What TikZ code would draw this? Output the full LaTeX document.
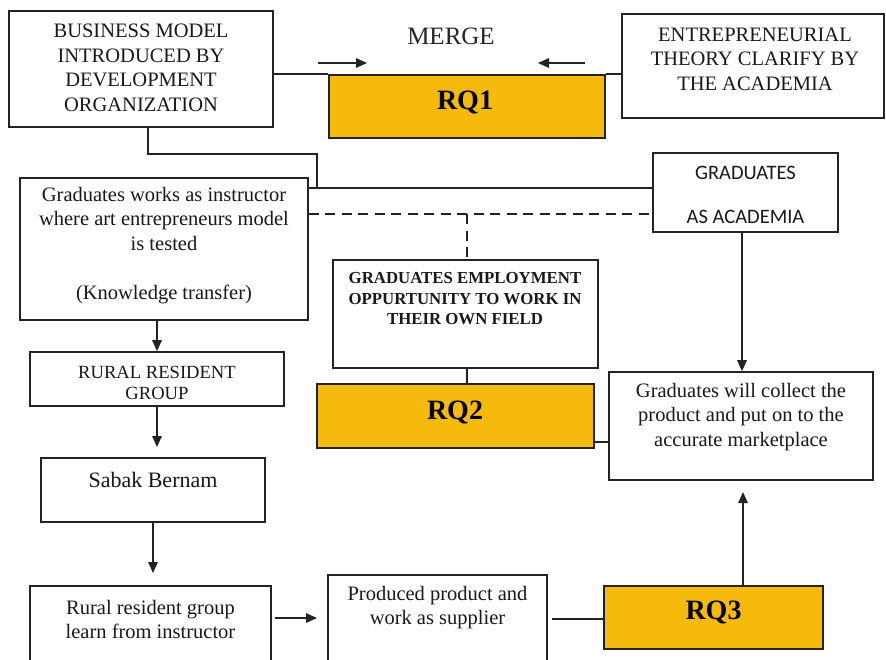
\documentclass[tikz,border=0pt]{standalone}
\usepackage{fontspec}
\setmainfont{Liberation Serif}
\newfontfamily\calfont{Carlito}
\usetikzlibrary{arrows.meta}
\definecolor{rqgold}{RGB}{245,186,12}
\definecolor{ink}{RGB}{35,35,35}
\tikzset{
  box/.style={draw=ink, line width=1.6pt, fill=white, inner sep=0pt},
  rqbox/.style={draw=ink, line width=1.6pt, fill=rqgold, inner sep=0pt},
  txt/.style={align=center, inner sep=0pt, text=black!90,
              font=\fontsize{20.5}{24.5}\selectfont},
  rqtxt/.style={inner sep=0pt, text=black, font=\fontsize{28}{30}\selectfont\bfseries},
  link/.style={draw=ink, line width=1.5pt},
  arr/.style={link, -{Triangle[length=11pt,width=9.5pt]}},
  dlink/.style={link, dash pattern=on 10pt off 6.5pt}
}
\begin{document}
\begin{tikzpicture}[x=1pt, y=-1pt]
\clip (0,0) rectangle (886,659);
\fill[white] (0,0) rectangle (886,659);

% top row
\node[box, minimum width=264pt, minimum height=116pt] (bm) at (141,69) {};
\node[txt] (bm-t) at (141,68) {BUSINESS MODEL\\INTRODUCED BY\\DEVELOPMENT\\ORGANIZATION};
\node[rqbox, minimum width=276pt, minimum height=63pt] (rq1) at (467,106.5) {};
\node[rqtxt] (rq1-t) at (465,102) {RQ1};
\node[box, minimum width=262pt, minimum height=104pt] (ent) at (753,66) {};
\node[txt] (ent-t) at (755,59) {ENTREPRENEURIAL\\THEORY CLARIFY BY\\THE ACADEMIA};
\node[inner sep=0pt, font=\fontsize{25}{28}\selectfont, text=black!85] (merge) at (451,36) {MERGE};

% middle area
\node[box, minimum width=288pt, minimum height=142pt] (instr) at (164,249) {};
\node[txt] (instr-t) at (164,245.5) {Graduates works as instructor\\where art entrepreneurs model\\is tested\\[24.5pt](Knowledge transfer)};
\node[box, minimum width=185pt, minimum height=79pt] (acad) at (745.5,192.5) {};
\node[txt, font=\calfont\fontsize{20.5}{22}\selectfont] (acad-t) at (745.5,195) {GRADUATES\\[22pt]AS ACADEMIA};
\node[box, minimum width=265pt, minimum height=108pt] (emp) at (465.5,314) {};
\node[txt, font=\fontsize{16.8}{20.5}\selectfont\bfseries] (emp-t) at (465,299)
  {GRADUATES EMPLOYMENT\\OPPURTUNITY TO WORK IN\\THEIR OWN FIELD};
\node[rqbox, minimum width=277pt, minimum height=64pt] (rq2) at (455.5,416) {};
\node[rqtxt] (rq2-t) at (455,412) {RQ2};
\node[box, minimum width=264pt, minimum height=108pt] (collect) at (741,426) {};
\node[txt] (collect-t) at (741,417) {Graduates will collect the\\product and put on to the\\accurate marketplace};

% left column
\node[box, minimum width=254pt, minimum height=54pt] (rural) at (157,379) {};
\node[txt, font=\fontsize{18.6}{21}\selectfont] (rural-t) at (157,382.5) {RURAL RESIDENT\\GROUP};
\node[box, minimum width=224pt, minimum height=64pt] (sabak) at (153,490) {};
\node[txt, font=\fontsize{22}{24}\selectfont] (sabak-t) at (153,480) {Sabak Bernam};
\node[box, minimum width=241pt, minimum height=100pt] (learn) at (150.5,636) {};
\node[txt] (learn-t) at (150.5,619.5) {Rural resident group\\learn from instructor};

% bottom row
\node[box, minimum width=219pt, minimum height=110pt] (prod) at (437.5,630) {};
\node[txt] (prod-t) at (437.5,607.5) {Produced product and\\work as supplier};
\node[rqbox, minimum width=219pt, minimum height=63pt] (rq3) at (713.5,617.5) {};
\node[rqtxt] (rq3-t) at (713.5,612) {RQ3};

% merge arrows
\coordinate (ma1) at (318,63);
\coordinate (ma2) at (367,63);
\coordinate (mb1) at (585,63);
\coordinate (mb2) at (538,63);
\draw[arr] (ma1) -- (ma2);
\draw[arr] (mb1) -- (mb2);

% top links into RQ1
\draw[link] (bm.east |- rq1.north) -- (rq1.north west);
\draw[link] (rq1.north east) -- (ent.west |- rq1.north);

% business model down to the academia line
\coordinate (j1) at (317,188);
\draw[link] ([xshift=7pt]bm.south) -- ++(0,26) -| (j1);
\draw[link] (instr.east |- j1) -- (acad.west |- j1);

% dashed links to employment opportunity
\coordinate (d1) at (467,214);
\draw[dlink] (instr.east |- d1) -- (acad.west |- d1);
\draw[dlink] (d1) -- (emp.north -| d1);
\draw[link] (emp.south -| d1) -- (rq2.north -| d1);

% right side
\coordinate (c2) at (600,442);
\draw[arr] (acad.south -| 742,0) -- (collect.north -| 742,0);
\draw[link] (rq2.east |- c2) -- (collect.west |- c2);
\coordinate (c5) at (743,492);
\draw[arr] (rq3.north -| c5) -- (c5);

% left chain
\coordinate (r1) at (157,447);
\coordinate (s1) at (153,573);
\draw[arr] (instr.south -| rural.north) -- (rural.north);
\draw[arr] (rural.south) -- (r1);
\draw[arr] (sabak.south) -- (s1);

% bottom chain
\coordinate (b1) at (275,618);
\coordinate (b2) at (317,618);
\draw[arr] (b1) -- (b2);
\coordinate (b3) at (552,619);
\draw[link] (b3) -- (rq3.west |- b3);
\end{tikzpicture}
\end{document}
